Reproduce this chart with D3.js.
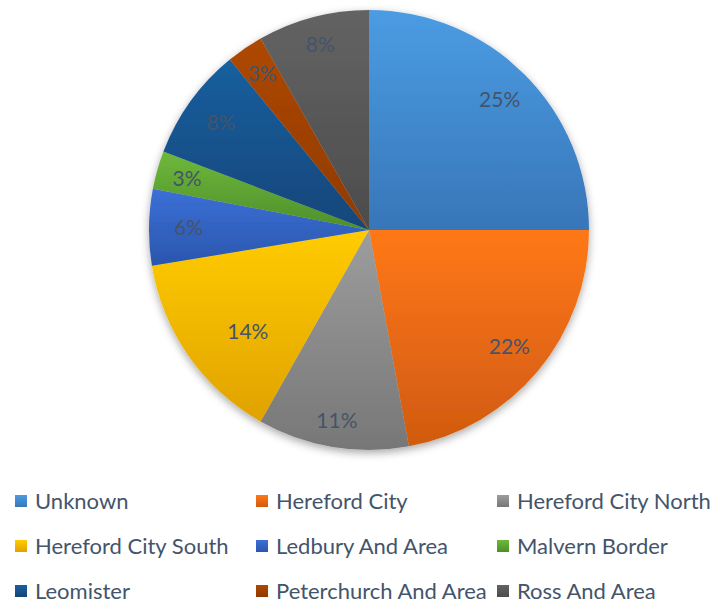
<!DOCTYPE html>
<html>
<head>
<meta charset="utf-8">
<script src="https://cdn.jsdelivr.net/npm/d3@7"></script>
<style>
  body { margin: 0; background: #fff; }
  text { font-family: Lato, "Open Sans", sans-serif; }
</style>
</head>
<body>
<svg id="chart" width="713" height="603"></svg>
<script>
// slice data (share of total, percent)
const areas = ["Unknown", "Hereford City", "Hereford City North", "Hereford City South",
  "Ledbury And Area", "Malvern Border", "Leomister", "Peterchurch And Area", "Ross And Area"];
const shares = [25.0, 22.1, 11.1, 14.2, 5.6, 2.8, 8.3, 2.7, 8.2];

// gradient colours per slice: top / bottom
const topColors = ["#4b9ce3", "#ff7818", "#9d9d9d", "#ffcc00", "#3b70d6", "#6fb83c", "#1a5f9f", "#ae4800", "#636363"];
const bottomColors = ["#3876b8", "#d05a10", "#777777", "#e0a200", "#2a56ad", "#4d8f2a", "#124679", "#903a00", "#4c4c4c"];

// label distance from centre, as a fraction of radius (Excel best-fit placement)
const labelPos = [0.84, 0.83, 0.88, 0.72, 0.82, 0.86, 0.83, 0.86, 0.87];

const svg = d3.select("#chart");
const cx = 369, cy = 230, R = 220;

const defs = svg.append("defs");
const shadow = defs.append("filter").attr("id", "shadow")
  .attr("x", "-10%").attr("y", "-10%").attr("width", "120%").attr("height", "125%");
shadow.append("feDropShadow").attr("dx", 0).attr("dy", 3).attr("stdDeviation", 4)
  .attr("flood-color", "#000").attr("flood-opacity", 0.35);

areas.forEach((a, i) => {
  const g = defs.append("linearGradient").attr("id", "grad" + i)
    .attr("x1", 0).attr("y1", 0).attr("x2", 0).attr("y2", 1);
  g.append("stop").attr("offset", "0%").attr("stop-color", topColors[i]);
  g.append("stop").attr("offset", "100%").attr("stop-color", bottomColors[i]);
});

const pie = d3.pie().sort(null).value(d => d)(shares);
const arc = d3.arc().innerRadius(0).outerRadius(R);
const total = d3.sum(shares);

const pg = svg.append("g").attr("transform", `translate(${cx},${cy})`);

pg.append("g").attr("filter", "url(#shadow)")
  .selectAll("path").data(pie).enter().append("path")
  .attr("d", arc)
  .attr("fill", (d, i) => `url(#grad${i})`);

pg.selectAll("text.lbl").data(pie).enter().append("text")
  .attr("class", "lbl")
  .attr("transform", (d, i) => {
    const r = R * labelPos[i];
    // the 14% label sits a little off the slice middle in the original
    const a = (d.startAngle + d.endAngle) / 2 - (i === 3 ? 0.09 : 0);
    return `translate(${r * Math.sin(a)},${-r * Math.cos(a)})`;
  })
  .attr("text-anchor", "middle")
  .attr("dy", "0.35em")
  .attr("font-size", 21)
  .attr("fill", "#44546a")
  .text(d => Math.round(d.value / total * 100) + "%");

// legend, 3 columns
const colX = d3.scalePoint().domain([0, 1, 2]).range([15, 497]);
const rowY = d3.scalePoint().domain([0, 1, 2]).range([501, 591]);

const leg = svg.append("g").selectAll("g").data(areas).enter().append("g")
  .attr("transform", (d, i) => `translate(${colX(i % 3)},${rowY(Math.floor(i / 3))})`);

leg.append("rect").attr("x", 0).attr("y", -6).attr("width", 12).attr("height", 12)
  .attr("fill", (d, i) => `url(#grad${i})`);

leg.append("text").attr("x", 20).attr("dy", "0.36em")
  .attr("font-size", 22).attr("fill", "#44546a")
  .text(d => d);
</script>
</body>
</html>
